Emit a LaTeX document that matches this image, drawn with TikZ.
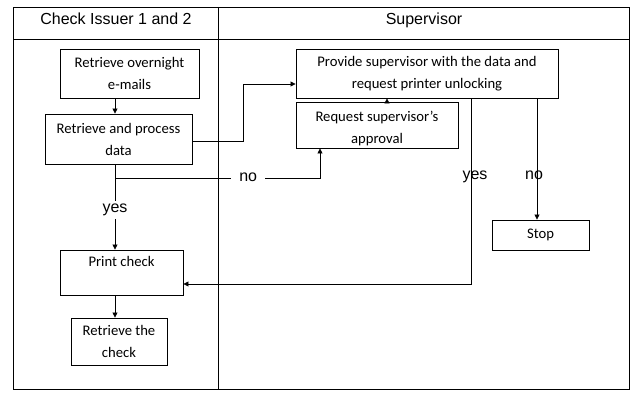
\documentclass[tikz,border=0pt]{standalone}
\usepackage{fontspec}
\setmainfont{Carlito}
\newfontfamily\headfont{Liberation Sans}
\usetikzlibrary{arrows.meta}

\begin{document}
\begin{tikzpicture}[x=1pt,y=-1pt, line width=0.8pt,
  stepbox/.style={draw, line width=0.9pt, inner sep=0pt, align=center, font=\fontsize{14.67}{22}\selectfont},
  lanetext/.style={font=\headfont\fontsize{16}{18}\selectfont, anchor=base, inner sep=0pt},
  gaptext/.style={lanetext, fill=white, inner xsep=8pt, inner ysep=3pt},
  arr/.style={-{Triangle[length=5pt,width=5pt]}}]
  \useasboundingbox (0,0) rectangle (641,403);
  % lanes
  \draw (13,7) rectangle (629,389);
  \draw (218,7) -- (218,389);
  \draw (13,39) -- (629,39);
  \node[lanetext] (issuer) at (116,25) {Check Issuer 1 and 2};
  \node[lanetext] (super) at (424,25) {Supervisor};
  % steps
  \node[stepbox, minimum width=139, minimum height=49] (over) at (129.5,73.5) {Retrieve overnight\\e-mails};
  \node[stepbox, minimum width=147, minimum height=50] (proc) at (118.5,139) {Retrieve and process\\data};
  \node[stepbox, minimum width=123, minimum height=45] (print) at (121.5,272.5) {Print check\\~};
  \node[stepbox, minimum width=96, minimum height=47] (fetch) at (119,341.5) {Retrieve the\\check};
  \node[stepbox, minimum width=262, minimum height=49] (prov) at (427,73.5) {Provide supervisor with the data and\\request printer unlocking};
  \node[stepbox, minimum width=162, minimum height=46] (appr) at (377,125) {\rule{0pt}{18pt}Request supervisor's\\approval};
  \node[stepbox, minimum width=97, minimum height=30] (stop) at (540.5,235) {Stop};
  \coordinate (spine) at (115,0);
  \coordinate (split) at (115,178);
  % flow
  \draw[arr] (over.south -| spine) -- (proc.north -| spine);
  \draw[arr] ([yshift=-2pt]proc.east) -- ++(51,0) |- ([yshift=-10.5pt]prov.west);
  \draw[arr] (proc.south -| spine) -- node[gaptext, pos=0.564] (yes1) {yes} (print.north -| spine);
  \draw[arr] (split) -| node[gaptext, pos=0.325, yshift=-4pt] (no1) {no} ([xshift=-57pt]appr.south);
  \draw[arr] ([xshift=10pt]appr.north) -- ([xshift=10pt]appr.north |- prov.south);
  \draw[arr] ([xshift=44pt]prov.south) |- ([yshift=-11.5pt]print.east);
  \draw[arr] ([xshift=110pt]prov.south) -- ([xshift=110pt]prov.south |- stop.north);
  \draw[arr] (print.south -| spine) -- (fetch.north -| spine);
  \node[lanetext] (yes2) at (475,180) {yes};
  \node[lanetext] (no2) at (534,180) {no};
\end{tikzpicture}
\end{document}
